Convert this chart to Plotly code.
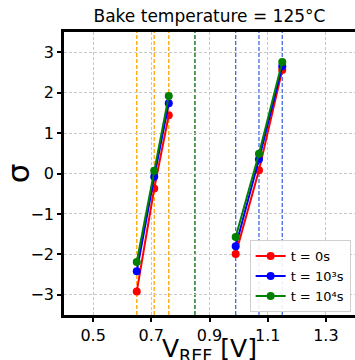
import plotly.graph_objects as go

# data
v_ref = [0.65, 0.71, 0.76, None, 0.99, 1.07, 1.15]
sigma_t0 = [-2.92, -0.37, 1.44, None, -1.99, 0.08, 2.56]
sigma_t1e3 = [-2.42, -0.08, 1.74, None, -1.80, 0.35, 2.65]
sigma_t1e4 = [-2.19, 0.07, 1.92, None, -1.57, 0.49, 2.76]
series_names = ["t = 0s", "t = 10³s", "t = 10⁴s"]
series_colors = ["#ff0000", "#0000ff", "#008000"]

vlines_orange = [0.65, 0.71, 0.76]
vlines_green = [0.85]
vlines_blue = [0.99, 1.07, 1.15]

x_ticks = [0.5, 0.7, 0.9, 1.1, 1.3]
y_ticks = [-3, -2, -1, 0, 1, 2, 3]

font = "DejaVu Sans"
W, H, L, R, T, B = 355, 360, 64, 0, 32, 45
plot_h = H - T - B

fig = go.Figure()
for name, ys, c in zip(series_names, [sigma_t0, sigma_t1e3, sigma_t1e4], series_colors):
    fig.add_trace(go.Scatter(x=v_ref, y=ys, mode="lines+markers", name=name,
                             line=dict(color=c, width=2),
                             marker=dict(color=c, size=8), connectgaps=False))

shapes = []
for xs, col in [(vlines_orange, "#ffa500"), (vlines_green, "#006400"), (vlines_blue, "#4169e1")]:
    for xv in xs:
        shapes.append(dict(type="line", xref="x", yref="paper", x0=xv, x1=xv, y0=0, y1=1,
                           line=dict(color=col, width=1.3, dash="4px,2px"), layer="below"))

fig.update_layout(
    width=W, height=H,
    margin=dict(l=L, r=R, t=T, b=B),
    paper_bgcolor="white", plot_bgcolor="white",
    font=dict(family=font, color="black"),
    title=dict(text="Bake temperature = 125°C", x=(L + W) / 2 / W, xanchor="center",
               y=1 - 16 / H, yanchor="middle", font=dict(size=17, family=font)),
    shapes=shapes,
    showlegend=True,
    legend=dict(x=0.985, y=0.01, xanchor="right", yanchor="bottom",
                bgcolor="rgba(255,255,255,0.9)", bordercolor="#d0d0d0", borderwidth=1,
                font=dict(size=13, family=font), tracegroupgap=0, itemwidth=30),
    annotations=[dict(text="V<sub>REF</sub> [V]", xref="paper", yref="paper",
                      x=0.5, xanchor="center", y=-(350 - (H - B)) / plot_h, yanchor="middle",
                      showarrow=False, font=dict(size=25, family=font))],
    xaxis=dict(range=[0.4, 1.4], tickvals=x_ticks, ticktext=[str(t) for t in x_ticks],
               showgrid=True, gridcolor="#c8c8c8", griddash="3px,2px", gridwidth=1,
               showline=True, linecolor="black", linewidth=2.5, mirror=True,
               ticks="outside", ticklen=4, tickwidth=1.5, tickcolor="black",
               tickfont=dict(size=16, family=font), zeroline=False, automargin=False),
    yaxis=dict(range=[-3.5, 3.5], tickvals=y_ticks,
               ticktext=[("−" + str(-t)) if t < 0 else str(t) for t in y_ticks],
               showgrid=True, gridcolor="#c8c8c8", griddash="3px,2px", gridwidth=1,
               showline=True, linecolor="black", linewidth=2.5,
               ticks="outside", ticklen=4, tickwidth=1.5, tickcolor="black",
               tickfont=dict(size=16, family=font), zeroline=False, automargin=False,
               title=dict(text="σ", font=dict(size=31, family=font), standoff=22)),
)

fig.write_html("out.html", post_script="document.body.style.margin='0';",
               config={"displayModeBar": False})
